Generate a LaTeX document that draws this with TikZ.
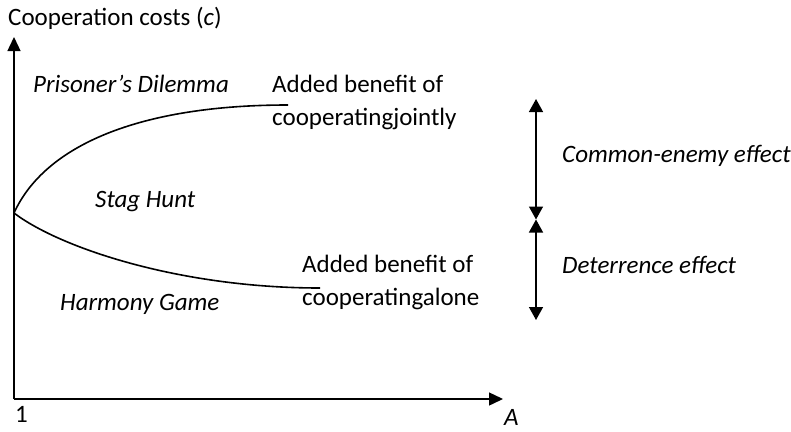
\documentclass[tikz,border=0pt]{standalone}
\usepackage{fontspec}
\setmainfont{Carlito}
\usetikzlibrary{arrows.meta}
\begin{document}
\begin{tikzpicture}[x=1pt,y=-1pt,
  lbl/.style={anchor=base west, inner sep=0pt, font=\fontsize{25}{30}\selectfont},
  ilbl/.style={lbl, font=\fontsize{25}{30}\selectfont\itshape},
  axisline/.style={line width=1.4pt, -{Triangle[length=14pt,width=13pt]}},
  curveline/.style={line width=1.6pt},
  dbl/.style={line width=1.4pt, {Triangle[length=13pt,width=14pt]}-{Triangle[length=13pt,width=14pt]}}]
\useasboundingbox (0,0) rectangle (791,431);
% axes
\coordinate (O) at (14,399);
\coordinate (ytop) at (14,37);
\coordinate (xend) at (503,399);
\draw[axisline] (O) -- (ytop);
\draw[axisline] (O) -- (xend);
% curves
\coordinate (B) at (14,213);
\coordinate (U) at (288,105);
\coordinate (L) at (320,288);
\draw[curveline] (B) .. controls (45,145) and (140,105) .. (U);
\draw[curveline] (B) .. controls (60,248) and (180,288) .. (L);
% double arrows
\coordinate (a1) at (536,99);
\coordinate (a2) at (536,219.5);
\coordinate (a3) at (536,320);
\draw[dbl] (a1) -- (a2);
\draw[dbl] (a2) -- (a3);
% labels
\node[lbl] (ylab) at (8,25) {Cooperation costs (\textit{c})};
\node[ilbl] (pd) at (33,92) {Prisoner’s Dilemma};
\node[lbl] (ab1) at (272,92) {Added benefit of};
\node[lbl] (cj) at (272,125) {cooperatingjointly};
\node[ilbl] (sh) at (95,207) {Stag Hunt};
\node[lbl] (ab2) at (302,272) {Added benefit of};
\node[lbl] (ca) at (302,305) {cooperatingalone};
\node[ilbl] (hg) at (60,310) {Harmony Game};
\node[ilbl] (ce) at (562,162) {Common-enemy effect};
\node[ilbl] (de) at (562,273) {Deterrence effect};
\node[lbl] (one) at (15,422) {1};
\node[ilbl] (xa) at (504,425) {A};
\end{tikzpicture}
\end{document}
